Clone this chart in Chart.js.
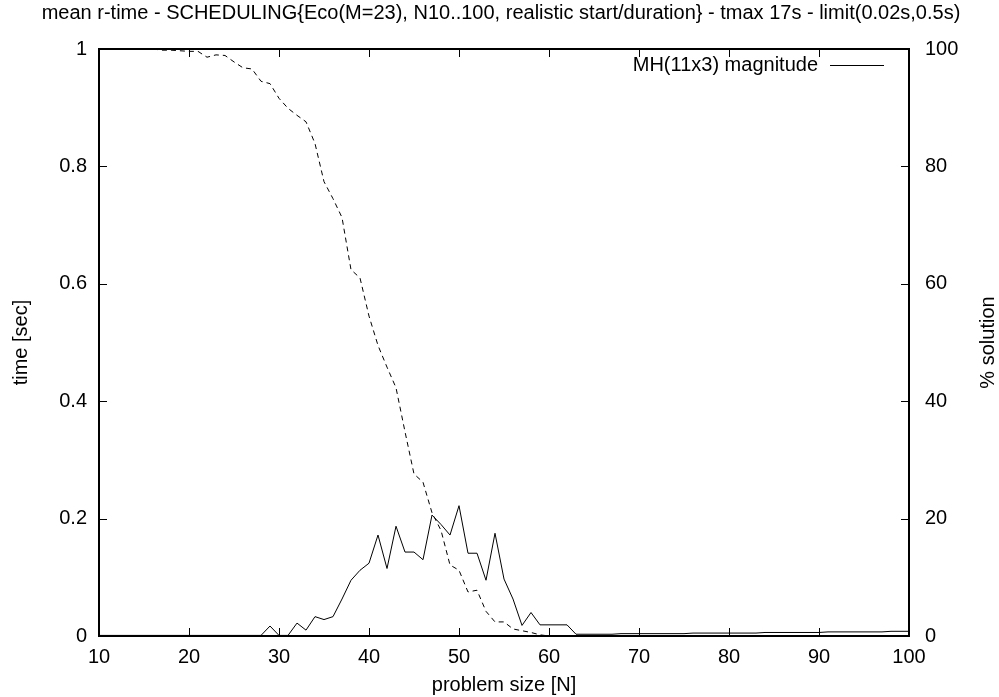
<!DOCTYPE html>
<html lang="en">
<head>
<meta charset="UTF-8">
<title>mean r-time - SCHEDULING</title>
<script src="https://cdn.jsdelivr.net/npm/chart.js"></script>
<style>
  body { margin: 0; background: #fff; }
  canvas { display: block; }
</style>
</head>
<body>
<canvas id="rtimeChart" width="999" height="697"></canvas>
<script>
// problem size N (x axis)
const problemSize = [
  10, 11, 12, 13, 14, 15, 16, 17, 18, 19,
  20, 21, 22, 23, 24, 25, 26, 27, 28, 29,
  30, 31, 32, 33, 34, 35, 36, 37, 38, 39,
  40, 41, 42, 43, 44, 45, 46, 47, 48, 49,
  50, 51, 52, 53, 54, 55, 56, 57, 58, 59,
  60, 61, 62, 63, 64, 65, 66, 67, 68, 69,
  70, 71, 72, 73, 74, 75, 76, 77, 78, 79,
  80, 81, 82, 83, 84, 85, 86, 87, 88, 89,
  90, 91, 92, 93, 94, 95, 96, 97, 98, 99,
  100
];

// mean r-time [sec], left axis (solid line)
const meanTime = [
  0.001, 0.001, 0.001, 0.001, 0.001, 0.001, 0.001, 0.001, 0.001, 0.001,
  0.001, 0.001, 0.001, 0.001, 0.001, 0.001, 0.001, 0.001, 0.001, 0.017,
  0.001, 0.001, 0.022, 0.010, 0.033, 0.028, 0.033, 0.063, 0.095, 0.112,
  0.124, 0.172, 0.115, 0.187, 0.143, 0.143, 0.130, 0.206, 0.190, 0.172,
  0.222, 0.141, 0.141, 0.095, 0.175, 0.097, 0.063, 0.018, 0.040, 0.019,
  0.019, 0.019, 0.019, 0.003, 0.003, 0.003, 0.003, 0.003, 0.004, 0.004,
  0.004, 0.004, 0.004, 0.004, 0.004, 0.004, 0.005, 0.005, 0.005, 0.005,
  0.005, 0.005, 0.005, 0.005, 0.006, 0.006, 0.006, 0.006, 0.006, 0.006,
  0.006, 0.007, 0.007, 0.007, 0.007, 0.007, 0.007, 0.007, 0.008, 0.008,
  0.008
];

// % solution, right axis (dashed line)
const solutionPct = [
  100, 100, 100, 100, 100, 100, 100, 99.8, 99.8, 99.7,
  99.6, 99.6, 98.6, 99.0, 98.9, 97.8, 96.8, 96.6, 94.5, 94.1,
  91.6, 89.9, 88.7, 87.6, 83.9, 77.4, 74.5, 71.3, 62.4, 61.0,
  54.5, 49.5, 45.8, 42.3, 34.8, 27.6, 26.2, 21.0, 18.0, 12.1,
  11.2, 7.5, 7.8, 4.2, 2.4, 2.4, 1.2, 0.9, 0.6, 0.2,
  0, 0, 0, 0, 0, 0, 0, 0, 0, 0,
  0, 0, 0, 0, 0, 0, 0, 0, 0, 0,
  0, 0, 0, 0, 0, 0, 0, 0, 0, 0,
  0, 0, 0, 0, 0, 0, 0, 0, 0, 0,
  0
];

const chartTitle = 'mean r-time - SCHEDULING{Eco(M=23), N10..100, realistic start/duration} - tmax 17s - limit(0.02s,0.5s)';
const legendLabel = 'MH(11x3) magnitude';
const fontFamily = '"Liberation Sans", Arial, Helvetica, sans-serif';
const fontSize = 20;

Chart.defaults.font.family = fontFamily;
Chart.defaults.font.size = fontSize;
Chart.defaults.color = '#000';

// gnuplot style frame, inward ticks, key and texts
const gnuplotLook = {
  id: 'gnuplotLook',
  afterDatasetsDraw(chart) {
    const { ctx, chartArea: a, scales } = chart;
    const tick = 8;
    ctx.save();
    ctx.strokeStyle = '#000';
    ctx.lineWidth = 1;
    ctx.beginPath();
    scales.x.ticks.forEach(t => {
      const px = Math.round(scales.x.getPixelForValue(t.value)) + 0.5;
      ctx.moveTo(px, a.bottom); ctx.lineTo(px, a.bottom - tick);
      ctx.moveTo(px, a.top); ctx.lineTo(px, a.top + tick);
    });
    scales.y.ticks.forEach(t => {
      const py = Math.round(scales.y.getPixelForValue(t.value)) + 0.5;
      ctx.moveTo(a.left, py); ctx.lineTo(a.left + tick, py);
    });
    scales.y2.ticks.forEach(t => {
      const py = Math.round(scales.y2.getPixelForValue(t.value)) + 0.5;
      ctx.moveTo(a.right, py); ctx.lineTo(a.right - tick, py);
    });
    ctx.stroke();

    ctx.lineWidth = 2;
    ctx.strokeRect(a.left, a.top, a.right - a.left, a.bottom - a.top);

    // key
    const ky = a.top + 16;
    ctx.font = fontSize + 'px ' + fontFamily;
    ctx.fillStyle = '#000';
    ctx.textAlign = 'right';
    ctx.textBaseline = 'middle';
    ctx.fillText(legendLabel, a.right - 91, ky);
    ctx.lineWidth = 1;
    ctx.beginPath();
    ctx.moveTo(a.right - 79, ky + 0.5);
    ctx.lineTo(a.right - 25, ky + 0.5);
    ctx.stroke();
    ctx.restore();
  },
  afterDraw(chart) {
    const { ctx, chartArea: a } = chart;
    ctx.save();
    ctx.font = fontSize + 'px ' + fontFamily;
    ctx.fillStyle = '#000';
    ctx.textAlign = 'center';
    ctx.textBaseline = 'middle';
    ctx.fillText(chartTitle, 501, 13);
    // right axis title reads bottom to top
    ctx.translate(988, (a.top + a.bottom) / 2);
    ctx.rotate(-Math.PI / 2);
    ctx.fillText('% solution', 0, 0);
    ctx.restore();
  }
};

const ctx = document.getElementById('rtimeChart').getContext('2d');
const rtimeChart = new Chart(ctx, {
  type: 'line',
  data: {
    datasets: [
      {
        label: legendLabel,
        data: problemSize.map((n, i) => ({ x: n, y: meanTime[i] })),
        borderColor: '#000',
        borderWidth: 1,
        pointRadius: 0,
        tension: 0,
        yAxisID: 'y'
      },
      {
        label: '% solution',
        data: problemSize.map((n, i) => ({ x: n, y: solutionPct[i] })),
        borderColor: '#000',
        borderWidth: 1,
        borderDash: [5, 4],
        pointRadius: 0,
        tension: 0,
        yAxisID: 'y2'
      }
    ]
  },
  options: {
    responsive: false,
    animation: false,
    layout: { padding: { top: 49, left: 0, right: 0, bottom: 0 } },
    plugins: {
      legend: { display: false },
      title: { display: false },
      tooltip: { enabled: false }
    },
    scales: {
      x: {
        type: 'linear',
        min: 10,
        max: 100,
        ticks: { stepSize: 10, padding: 9 },
        grid: { display: false, drawTicks: false },
        border: { display: false },
        title: { display: true, text: 'problem size [N]', padding: 0 },
        afterFit: s => { s.height = 61; }
      },
      y: {
        position: 'left',
        min: 0,
        max: 1,
        ticks: { stepSize: 0.2, padding: 12, callback: v => String(Number(v.toFixed(1))) },
        grid: { display: false, drawTicks: false },
        border: { display: false },
        title: { display: true, text: 'time [sec]', padding: { top: 9, bottom: 0 } },
        afterFit: s => { s.width = 99; }
      },
      y2: {
        position: 'right',
        min: 0,
        max: 100,
        ticks: { stepSize: 20, padding: 16 },
        grid: { display: false, drawTicks: false },
        border: { display: false },
        afterFit: s => { s.width = 90; }
      }
    }
  },
  plugins: [gnuplotLook]
});
</script>
</body>
</html>
